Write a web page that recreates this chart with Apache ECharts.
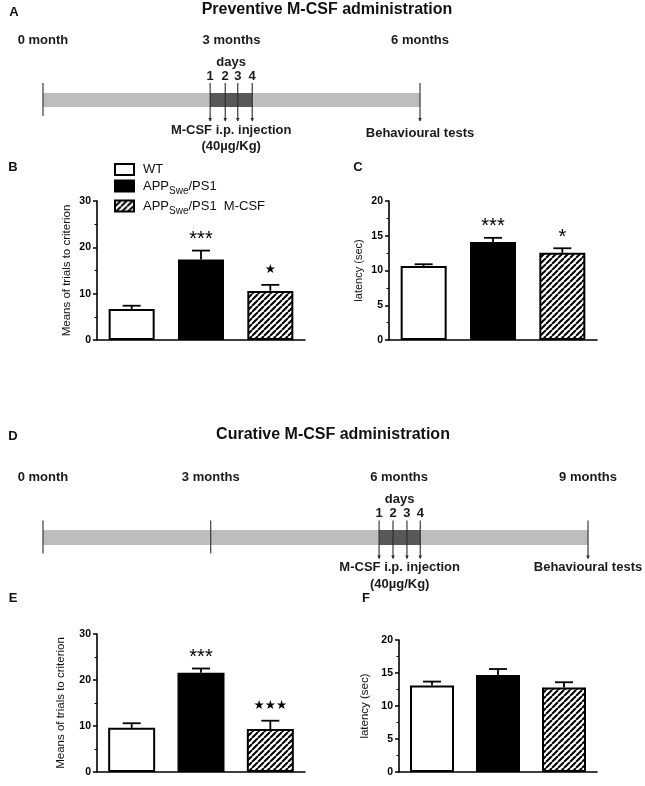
<!DOCTYPE html>
<html><head><meta charset="utf-8">
<script src="https://cdn.jsdelivr.net/npm/echarts@6.0.0/dist/echarts.min.js"></script>
<style>html,body{margin:0;padding:0;background:#fff}#c{width:645px;height:786px}</style>
</head><body><div id="c"></div>
<script>
// ---------- data ----------
const groups = ['WT', 'APPSwe/PS1', 'APPSwe/PS1 M-CSF'];

const B_mean = [6.7, 17.4, 10.6];
const B_err  = [7.4, 19.3, 11.9];
const B_stars = ['', '***', '★'];

const C_mean = [10.65, 14.1, 12.55];
const C_err  = [10.9, 14.7, 13.2];
const C_stars = ['', '***', '*'];

const E_mean = [9.6, 21.6, 9.35];
const E_err  = [10.6, 22.5, 11.15];
const E_stars = ['', '***', '★★★'];

const F_mean = [13.1, 14.7, 12.8];
const F_err  = [13.7, 15.6, 13.6];
const F_stars = ['', '', ''];

const trialsTicks = [0, 10, 20, 30];
const latencyTicks = [0, 5, 10, 15, 20];

// timeline A (months)
const A_labelText = ['0 month', '3 months', '6 months'];
const A_labelPos = [0, 3, 6];
const A_span = [0, 6];
const A_days = [2.66, 2.90, 3.10, 3.33];
const A_plainTicks = [0];
const A_test = 6;

// timeline D (months)
const D_labelText = ['0 month', '3 months', '6 months', '9 months'];
const D_labelPos = [0, 2.77, 5.88, 9];
const D_span = [0, 9];
const D_days = [5.55, 5.78, 6.01, 6.23];
const D_plainTicks = [0, 2.77];
const D_test = 9;

const dayNumbers = ['1', '2', '3', '4'];

// ---------- helpers ----------
const FONT = '"Liberation Sans", Arial, Helvetica, sans-serif';

function makeHatch() {
  const s = 6;
  const c = document.createElement('canvas');
  c.width = s; c.height = s;
  const g = c.getContext('2d');
  g.fillStyle = '#fff'; g.fillRect(0, 0, s, s);
  g.strokeStyle = '#000'; g.lineWidth = 2;
  g.beginPath();
  [-s, 0, s].forEach(k => { g.moveTo(k, s); g.lineTo(k + s, 0); });
  g.stroke();
  return c;
}
const hatch = makeHatch();
const fills = ['#ffffff', '#000000', { image: hatch, repeat: 'repeat' }];

const grids = [];
const xAxes = [];
const yAxes = [];
const series = [];

function addTimeline(left, width, top, span, labelText, labelPos, days, plainTicks, test, half, behavDy) {
  const gi = grids.length;
  grids.push({ left: left, width: width, top: top, height: 40 });
  xAxes.push({ type: 'value', gridIndex: gi, min: span[0], max: span[1], show: false });
  yAxes.push({ type: 'value', gridIndex: gi, min: 0, max: 1, show: false });
  const segs = [[span[0], span[1]], [days[0], days[days.length - 1]]];
  const segColors = ['#bdbdbf', '#58585a'];
  series.push({
    type: 'custom', xAxisIndex: gi, yAxisIndex: gi, clip: false, silent: true,
    data: segs,
    renderItem: function (p, api) {
      const a = api.coord([api.value(0), 0.5]);
      const b = api.coord([api.value(1), 0.5]);
      return { type: 'rect', shape: { x: a[0], y: a[1] - half, width: b[0] - a[0], height: half * 2 },
        style: { fill: segColors[p.dataIndex] } };
    }
  });
  const ticks = plainTicks.map(v => [v, 0]).concat(days.map(v => [v, 1])).concat([[test, 1]]);
  series.push({
    type: 'custom', xAxisIndex: gi, yAxisIndex: gi, clip: false, silent: true, z: 3,
    data: ticks,
    renderItem: function (p, api) {
      const c = api.coord([api.value(0), 0.5]);
      const arrow = api.value(1) === 1;
      const y1 = c[1] - 17, y2 = c[1] + (arrow ? 21 : 16);
      const ch = [{ type: 'line', shape: { x1: c[0], y1: y1, x2: c[0], y2: y2 },
        style: { stroke: '#2a2a2a', lineWidth: 1.1 } }];
      if (arrow) ch.push({ type: 'polygon', shape: { points: [[c[0] - 1.8, y2 - 3], [c[0] + 1.8, y2 - 3], [c[0], y2 + 0.5]] },
        style: { fill: '#2a2a2a' } });
      return { type: 'group', children: ch };
    }
  });
  const mid = (days[0] + days[days.length - 1]) / 2;
  const texts = [];
  labelText.forEach((t, i) => texts.push({ v: labelPos[i], t: t, dy: -60 }));
  texts.push({ v: mid, t: 'days', dy: -38 });
  days.forEach((d, i) => texts.push({ v: d, t: dayNumbers[i], dy: -24 }));
  texts.push({ v: mid, t: 'M-CSF i.p. injection', dy: 30 });
  texts.push({ v: mid, t: '(40\u00b5g/Kg)', dy: 46.5 });
  texts.push({ v: test, t: 'Behavioural tests', dy: behavDy });
  series.push({
    type: 'custom', xAxisIndex: gi, yAxisIndex: gi, clip: false, silent: true,
    data: texts.map(o => [o.v]),
    renderItem: function (p, api) {
      const o = texts[p.dataIndex];
      const c = api.coord([api.value(0), 0.5]);
      return { type: 'text', style: { text: o.t, x: c[0], y: c[1] + o.dy, align: 'center', verticalAlign: 'middle',
        font: 'bold 13px ' + FONT, fill: '#1a1a1a' } };
    }
  });
}

function addBars(left, top, width, height, ticks, mean, err, stars, yName, nameGap, barW, nameSize) {
  const gi = grids.length;
  grids.push({ left: left, top: top, width: width, height: height });
  xAxes.push({ type: 'category', gridIndex: gi, data: groups,
    axisLine: { lineStyle: { color: '#000', width: 1.6 } }, axisTick: { show: false }, axisLabel: { show: false } });
  yAxes.push({ type: 'value', gridIndex: gi, min: ticks[0], max: ticks[ticks.length - 1], interval: ticks[1] - ticks[0],
    axisLine: { show: true, lineStyle: { color: '#000', width: 1.6 } },
    axisTick: { show: true, length: 4, lineStyle: { color: '#000', width: 1.5 } },
    minorTick: { show: true, splitNumber: 2, length: 2.5, lineStyle: { color: '#000', width: 1 } },
    splitLine: { show: false },
    axisLabel: { color: '#000', fontWeight: 'bold', fontSize: 10.5, margin: 6, fontFamily: FONT },
    name: yName, nameLocation: 'middle', nameGap: nameGap,
    nameTextStyle: { color: '#111', fontSize: nameSize, fontFamily: FONT } });
  groups.forEach((g, k) => {
    series.push({
      type: 'bar', name: g, xAxisIndex: gi, yAxisIndex: gi, barWidth: barW, barGap: '-100%',
      data: mean.map((v, i) => i === k ? v : '-'),
      itemStyle: { color: fills[k], borderColor: '#000', borderWidth: 2 }
    });
  });
  series.push({
    type: 'custom', xAxisIndex: gi, yAxisIndex: gi, z: 5, clip: false, silent: true,
    encode: { x: 0, y: [1, 2] },
    data: mean.map((v, i) => [i, v, err[i]]),
    renderItem: function (p, api) {
      const i = api.value(0);
      const b = api.coord([i, api.value(1)]);
      const t = api.coord([i, api.value(2)]);
      const ch = [
        { type: 'line', shape: { x1: b[0], y1: b[1], x2: t[0], y2: t[1] }, style: { stroke: '#000', lineWidth: 1.8 } },
        { type: 'line', shape: { x1: t[0] - 9, y1: t[1], x2: t[0] + 9, y2: t[1] }, style: { stroke: '#000', lineWidth: 1.8 } }
      ];
      const s = stars[p.dataIndex];
      if (s) {
        const ast = s.indexOf('*') >= 0;
        ch.push({ type: 'text', style: { text: s, x: t[0], y: t[1] - (ast ? 11 : 15), align: 'center', verticalAlign: 'middle',
          font: ast ? '20px ' + FONT : '12.5px "DejaVu Sans"', fill: '#000' } });
      }
      return { type: 'group', children: ch };
    }
  });
}

addTimeline(43, 377, 80, A_span, A_labelText, A_labelPos, A_days, A_plainTicks, A_test, 7, 33);
addBars(97, 201, 208, 139, trialsTicks, B_mean, B_err, B_stars, 'Means of trials to criterion', 24, 46, 11.5);
addBars(389, 201, 208, 139, latencyTicks, C_mean, C_err, C_stars, 'latency (sec)', 25, 46, 11);
addTimeline(43, 545, 517.5, D_span, D_labelText, D_labelPos, D_days, D_plainTicks, D_test, 7.5, 30);
addBars(97, 634, 208, 138, trialsTicks, E_mean, E_err, E_stars, 'Means of trials to criterion', 30, 47, 11.5);
addBars(399, 640, 198, 132, latencyTicks, F_mean, F_err, F_stars, 'latency (sec)', 28, 44, 11.5);

function txt(x, y, t, font) {
  return { type: 'text', x: x, y: y, style: { text: t, font: font, fill: '#111', align: 'center', verticalAlign: 'middle' } };
}

const chart = echarts.init(document.getElementById('c'), null, { renderer: 'canvas' });
chart.setOption({
  animation: false,
  backgroundColor: '#fff',
  grid: grids, xAxis: xAxes, yAxis: yAxes, series: series,
  legend: {
    orient: 'vertical', left: 109, top: 158, itemWidth: 19, itemHeight: 11, itemGap: 0,
    selectedMode: false, data: groups, icon: 'rect',
    formatter: function (name) {
      if (name === 'WT') return '{n|WT}';
      return '{n|APP}{s|Swe}{n|' + name.slice(6).replace(' ', '  ') + '}';
    },
    textStyle: {
      padding: [0, 0, 0, 4],
      rich: {
        n: { fontSize: 13, lineHeight: 20, fontFamily: FONT, color: '#111' },
        s: { fontSize: 10, lineHeight: 10, padding: [10, 0, 0, 0], fontFamily: FONT, color: '#111' }
      }
    }
  },
  graphic: [
    txt(327, 10, 'Preventive M-CSF administration', 'bold 16px ' + FONT),
    txt(333, 435, 'Curative M-CSF administration', 'bold 16px ' + FONT),
    txt(14, 12, 'A', 'bold 13px ' + FONT),
    txt(13, 167, 'B', 'bold 13px ' + FONT),
    txt(358, 167, 'C', 'bold 13px ' + FONT),
    txt(13, 436, 'D', 'bold 13px ' + FONT),
    txt(13, 598, 'E', 'bold 13px ' + FONT),
    txt(366, 598, 'F', 'bold 13px ' + FONT)
  ]
});
</script></body></html>
